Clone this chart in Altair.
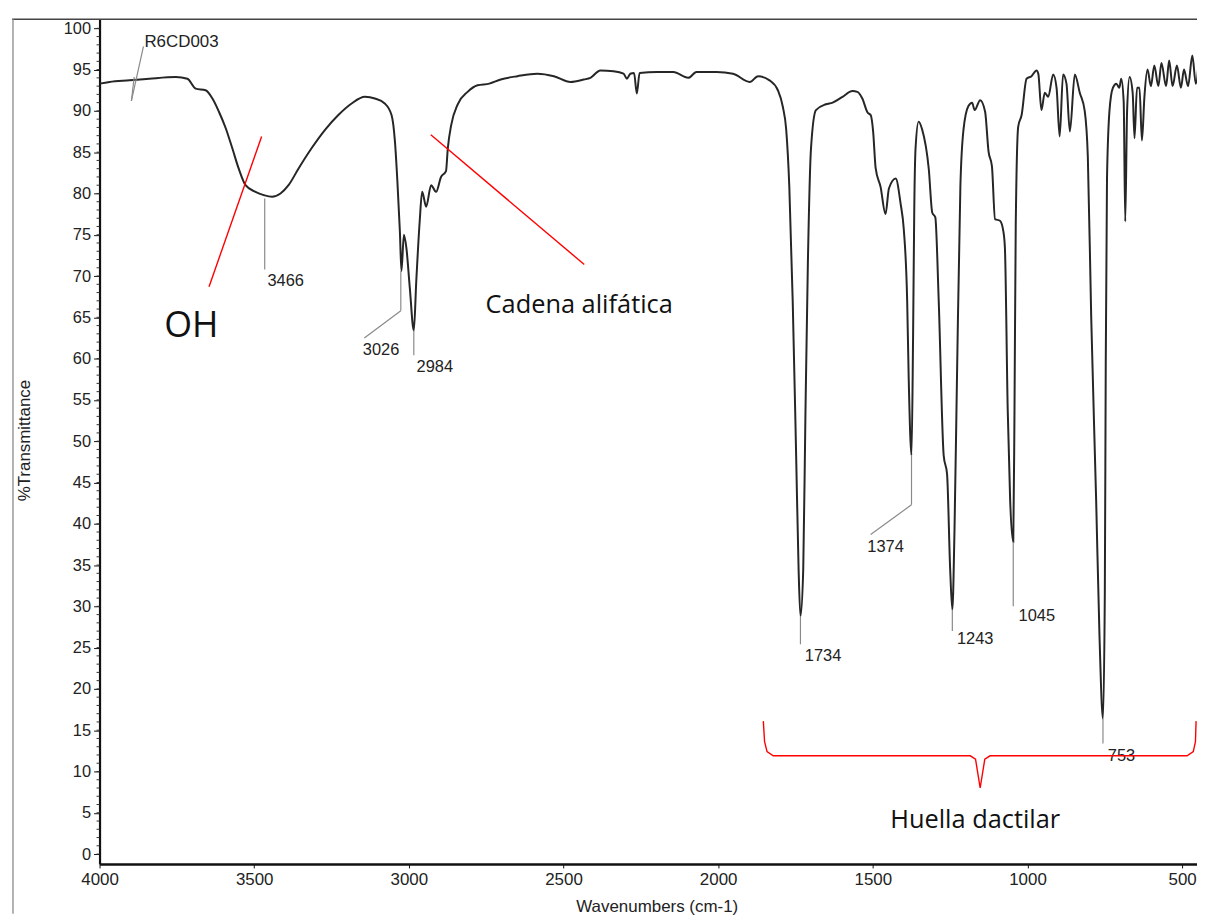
import altair as alt
import pandas as pd

# ---------------- spectrum ----------------
wavenumber = [
    4000, 3968, 3903, 3839, 3753, 3716, 3689, 3657, 3635, 3614,
    3592, 3571, 3550, 3528, 3496, 3469, 3442, 3415, 3389, 3357,
    3314, 3271, 3228, 3185, 3142, 3110, 3078, 3056, 3045, 3037,
    3029, 3024, 3016, 3008, 2997, 2984, 2976, 2965, 2957, 2944,
    2928, 2912, 2896, 2880, 2874, 2863, 2842, 2810, 2778, 2740,
    2703, 2649, 2585, 2531, 2477, 2434, 2413, 2381, 2338, 2306,
    2295, 2284, 2272, 2263, 2254, 2198, 2145, 2097, 2070, 2005,
    1952, 1898, 1871, 1834, 1807, 1791, 1780, 1770, 1759, 1748,
    1740, 1734, 1725, 1718, 1710, 1700, 1684, 1652, 1630, 1598,
    1566, 1550, 1534, 1517, 1507, 1499, 1491, 1475, 1459, 1448,
    1426, 1410, 1400, 1389, 1384, 1375, 1370, 1366, 1362, 1352,
    1341, 1319, 1308, 1298, 1287, 1271, 1260, 1250, 1243, 1236,
    1228, 1217, 1207, 1191, 1179, 1171, 1153, 1137, 1126, 1115,
    1105, 1089, 1078, 1073, 1064, 1056, 1046, 1042, 1038, 1030,
    1019, 1003, 987, 971, 965, 955, 944, 933, 917, 906,
    896, 885, 874, 863, 847, 831, 815, 805, 794, 778,
    767, 756, 750, 747, 743, 735, 724, 713, 703, 697,
    689, 684, 678, 670, 660, 654, 646, 638, 630, 622,
    612, 601, 590, 577, 567, 552, 542, 531, 517, 504,
    494, 481, 467, 456, 445,
]
transmittance = [
    93.3, 93.5, 93.7, 93.9, 94.1, 93.9, 92.7, 92.5, 91.5, 89.9,
    87.9, 85.5, 83.0, 81.0, 80.2, 79.8, 79.6, 80.0, 81.0, 83.0,
    85.5, 87.7, 89.5, 90.9, 91.7, 91.5, 90.9, 89.5, 86.3, 81.4,
    75.4, 70.6, 75.0, 73.4, 68.6, 63.4, 69.4, 76.6, 80.2, 78.4,
    81.0, 80.2, 82.0, 82.7, 85.5, 88.3, 90.8, 92.3, 93.1, 93.3,
    93.8, 94.2, 94.5, 94.2, 93.5, 93.8, 94.0, 94.9, 94.8, 94.5,
    93.9, 94.5, 94.6, 92.1, 94.6, 94.7, 94.7, 94.0, 94.7, 94.7,
    94.5, 93.5, 94.2, 93.7, 92.5, 90.5, 87.7, 80.8, 66.9, 48.4,
    34.5, 28.8, 34.5, 53.0, 71.6, 85.4, 90.1, 90.8, 91.0, 91.7,
    92.4, 92.3, 91.5, 89.8, 89.5, 87.5, 83.1, 80.8, 77.5, 80.6,
    81.8, 78.7, 75.7, 67.0, 57.6, 48.3, 62.3, 78.3, 85.4, 88.7,
    87.8, 82.9, 77.7, 77.1, 67.0, 48.3, 46.0, 34.5, 29.6, 39.2,
    57.6, 80.8, 87.7, 90.6, 91.0, 90.1, 91.3, 89.9, 85.1, 83.3,
    76.9, 76.7, 75.4, 73.4, 53.9, 42.8, 37.8, 53.9, 76.1, 88.1,
    89.5, 93.9, 94.2, 94.9, 94.5, 90.1, 92.2, 91.7, 94.4, 92.8,
    86.9, 94.4, 93.3, 87.5, 94.4, 92.2, 90.0, 84.5, 65.0, 42.8,
    26.1, 16.4, 31.7, 59.4, 81.7, 90.0, 92.8, 93.3, 92.8, 93.9,
    91.1, 76.6, 90.0, 94.1, 92.2, 86.7, 92.8, 92.8, 86.4, 91.7,
    95.0, 93.0, 95.5, 93.0, 95.8, 93.0, 96.1, 93.0, 95.5, 92.8,
    95.0, 93.0, 96.7, 93.3, 96.7,
]
assert len(wavenumber) == len(transmittance)

# ---------------- axes ----------------
x_ticks = [4000, 3500, 3000, 2500, 2000, 1500, 1000, 500]
y_ticks = list(range(0, 101, 5))
y_minor = list(range(0, 101, 1))

# ---------------- peak labels ----------------
peak_text = ["3466", "3026", "2984", "1734", "1374", "1243", "1045", "753"]
peak_text_x = [3398, 3090, 2916, 1661, 1459, 1169, 970, 696]
peak_text_y = [69.4, 61.0, 59.0, 24.0, 37.2, 26.0, 28.8, 11.9]

sample_text = ["R6CD003"]
sample_text_x = [3855]
sample_text_y = [98.3]

# leader segments (gray)
lead_x1 = [3858, 3888, 3466, 3026, 3026, 2984, 1734, 1375, 1375, 1243, 1046, 756]
lead_y1 = [97.8, 94.1, 79.4, 70.6, 65.8, 63.4, 28.8, 48.3, 42.3, 29.6, 37.8, 16.4]
lead_x2 = [3897, 3897, 3466, 3026, 3144, 2984, 1734, 1375, 1507, 1243, 1046, 756]
lead_y2 = [91.2, 91.2, 70.8, 65.8, 62.5, 60.4, 25.4, 42.3, 38.7, 27.0, 30.0, 13.4]

# red annotation pointers
red_x1 = [3476, 2929]
red_y1 = [86.9, 87.1]
red_x2 = [3646, 2433]
red_y2 = [68.7, 71.4]

# red brace under the fingerprint region
brace_x = [1854, 1850, 1842, 1822, 1185, 1168, 1153, 1138, 1121, 484, 464, 457, 455]
brace_y = [16.1, 13.6, 12.4, 11.9, 11.9, 11.5, 8.0, 11.5, 11.9, 11.9, 12.4, 13.6, 16.1]

note_text = ["OH", "Cadena alifática", "Huella dactilar"]
note_x = [3791, 2752, 1169]
note_y = [64.0, 66.5, 4.1]
note_size = [36, 25.5, 25.5]
note_align = ["left", "left", "center"]

# ---------------- layout ----------------
W, H = 1103, 849
xs = alt.Scale(domain=[452, 4000], reverse=True, nice=False, zero=False)
ys = alt.Scale(domain=[-1.2, 101.1], nice=False, zero=False)

spec_df = pd.DataFrame({"wn": wavenumber, "t": transmittance,
                        "idx": list(range(len(wavenumber)))})

spectrum = alt.Chart(spec_df).mark_line(
    color="#262626", strokeWidth=2.0, clip=True, interpolate="monotone"
).encode(
    x=alt.X("wn:Q", scale=xs,
            axis=alt.Axis(values=x_ticks, format="d", grid=False, tickSize=4,
                          tickColor="#111", domainColor="#111", domainWidth=2.4,
                          labelFont="Liberation Sans", labelFontSize=17, labelColor="#222",
                          labelPadding=4, labelFlush=False,
                          title="Wavenumbers (cm-1)", titleFont="Liberation Sans",
                          titleFontSize=17, titleFontWeight="normal", titleColor="#222",
                          titleX=560, titleY=43, titleAlign="center",
                          titleBaseline="middle")),
    y=alt.Y("t:Q", scale=ys,
            axis=alt.Axis(values=y_ticks, grid=False, tickSize=6, tickColor="#111",
                          domainColor="#111", domainWidth=2.2,
                          labelFont="Liberation Sans", labelFontSize=16.5, labelColor="#222",
                          labelPadding=3,
                          title="%Transmittance", titleFont="Liberation Sans",
                          titleFontSize=17, titleFontWeight="normal", titleColor="#222",
                          titleAngle=270, titleX=-75, titleY=423, titleAlign="center",
                          titleBaseline="middle")),
    order=alt.Order("idx:Q"),
)

minor_df = pd.DataFrame({"t": y_minor})
minor = alt.Chart(minor_df).mark_rule(color="#333", strokeWidth=1).encode(
    y=alt.Y("t:Q", scale=ys, axis=None),
    x=alt.value(-3), x2=alt.value(0),
)

frame_top = alt.Chart(pd.DataFrame({"a": [0]})).mark_rule(color="#444", strokeWidth=1.6).encode(
    x=alt.value(-88), x2=alt.value(W + 2), y=alt.value(0)
)
frame_left = alt.Chart(pd.DataFrame({"a": [0]})).mark_rule(color="#999", strokeWidth=1.5).encode(
    x=alt.value(-87), y=alt.value(0), y2=alt.value(H + 50)
)

lead_df = pd.DataFrame({"x1": lead_x1, "y1": lead_y1, "x2": lead_x2, "y2": lead_y2})
leaders = alt.Chart(lead_df).mark_rule(color="#8a8a8a", strokeWidth=1.2).encode(
    x=alt.X("x1:Q", scale=xs, axis=None), y=alt.Y("y1:Q", scale=ys, axis=None),
    x2="x2:Q", y2="y2:Q",
)

peak_df = pd.DataFrame({"lab": peak_text, "x": peak_text_x, "y": peak_text_y})
peaks = alt.Chart(peak_df).mark_text(
    font="Liberation Sans", fontSize=16.5, color="#222", align="center", baseline="middle"
).encode(
    x=alt.X("x:Q", scale=xs, axis=None), y=alt.Y("y:Q", scale=ys, axis=None), text="lab:N"
)

sample_df = pd.DataFrame({"lab": sample_text, "x": sample_text_x, "y": sample_text_y})
sample = alt.Chart(sample_df).mark_text(
    font="Liberation Sans", fontSize=17, color="#222", align="left", baseline="middle"
).encode(
    x=alt.X("x:Q", scale=xs, axis=None), y=alt.Y("y:Q", scale=ys, axis=None), text="lab:N"
)

red_df = pd.DataFrame({"x1": red_x1, "y1": red_y1, "x2": red_x2, "y2": red_y2})
red_lines = alt.Chart(red_df).mark_rule(color="#ff0000", strokeWidth=1.4).encode(
    x=alt.X("x1:Q", scale=xs, axis=None), y=alt.Y("y1:Q", scale=ys, axis=None),
    x2="x2:Q", y2="y2:Q",
)

brace_df = pd.DataFrame({"x": brace_x, "y": brace_y, "i": list(range(len(brace_x)))})
brace = alt.Chart(brace_df).mark_line(color="#ff0000", strokeWidth=1.4, interpolate="linear").encode(
    x=alt.X("x:Q", scale=xs, axis=None), y=alt.Y("y:Q", scale=ys, axis=None),
    order=alt.Order("i:Q"),
)

note_layers = []
for txt, nx, ny, ns, na in zip(note_text, note_x, note_y, note_size, note_align):
    ndf = pd.DataFrame({"lab": [txt], "x": [nx], "y": [ny]})
    note_layers.append(
        alt.Chart(ndf).mark_text(font="Open Sans", fontSize=ns, color="#111", align=na,
                                 baseline="middle").encode(
            x=alt.X("x:Q", scale=xs, axis=None), y=alt.Y("y:Q", scale=ys, axis=None),
            text="lab:N")
    )

chart = alt.layer(
    spectrum, minor, frame_top, frame_left, leaders, peaks, sample, red_lines, brace,
    *note_layers
).resolve_axis(x="independent", y="independent").properties(
    width=W, height=H,
    autosize=alt.AutoSizeParams(type="none"),
    padding={"left": 92, "top": 9, "right": 0, "bottom": 50},
    background="white",
).configure_view(stroke=None)

chart.save("out.html", embed_options={"renderer": "svg", "actions": False})
